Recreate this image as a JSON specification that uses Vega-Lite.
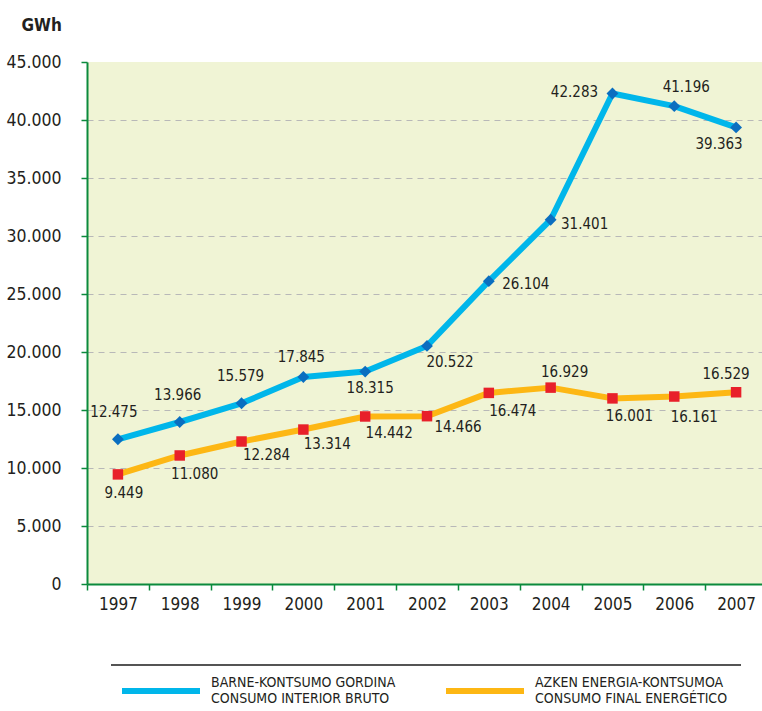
{
  "$schema": "https://vega.github.io/schema/vega-lite/v6.json",
  "width": 675,
  "height": 522,
  "autosize": "none",
  "padding": {"left": 87, "top": 62, "right": 0, "bottom": 127},
  "background": "white",
  "config": {
    "view": {"fill": "#f0f4d5", "stroke": null},
    "font": "DejaVu Sans Condensed",
    "locale": {"number": {"decimal": ",", "thousands": ".", "grouping": [3], "currency": ["", ""]}},
    "axis": {"labelColor": "#231f20", "labelFont": "DejaVu Sans Condensed", "domainColor": "#0b8a3c", "domainWidth": 2, "tickColor": "#0b8a3c", "tickWidth": 1.5, "tickSize": 6},
    "legend": {"labelFont": "DejaVu Sans Condensed"},
    "text": {"font": "DejaVu Sans Condensed"}
  },
  "data": {
    "values": [
      {"year": "1997", "series": "BARNE-KONTSUMO GORDINA / CONSUMO INTERIOR BRUTO", "value": 12475},
      {"year": "1998", "series": "BARNE-KONTSUMO GORDINA / CONSUMO INTERIOR BRUTO", "value": 13966},
      {"year": "1999", "series": "BARNE-KONTSUMO GORDINA / CONSUMO INTERIOR BRUTO", "value": 15579},
      {"year": "2000", "series": "BARNE-KONTSUMO GORDINA / CONSUMO INTERIOR BRUTO", "value": 17845},
      {"year": "2001", "series": "BARNE-KONTSUMO GORDINA / CONSUMO INTERIOR BRUTO", "value": 18315},
      {"year": "2002", "series": "BARNE-KONTSUMO GORDINA / CONSUMO INTERIOR BRUTO", "value": 20522},
      {"year": "2003", "series": "BARNE-KONTSUMO GORDINA / CONSUMO INTERIOR BRUTO", "value": 26104},
      {"year": "2004", "series": "BARNE-KONTSUMO GORDINA / CONSUMO INTERIOR BRUTO", "value": 31401},
      {"year": "2005", "series": "BARNE-KONTSUMO GORDINA / CONSUMO INTERIOR BRUTO", "value": 42283},
      {"year": "2006", "series": "BARNE-KONTSUMO GORDINA / CONSUMO INTERIOR BRUTO", "value": 41196},
      {"year": "2007", "series": "BARNE-KONTSUMO GORDINA / CONSUMO INTERIOR BRUTO", "value": 39363},
      {"year": "1997", "series": "AZKEN ENERGIA-KONTSUMOA / CONSUMO FINAL ENERGÉTICO", "value": 9449},
      {"year": "1998", "series": "AZKEN ENERGIA-KONTSUMOA / CONSUMO FINAL ENERGÉTICO", "value": 11080},
      {"year": "1999", "series": "AZKEN ENERGIA-KONTSUMOA / CONSUMO FINAL ENERGÉTICO", "value": 12284},
      {"year": "2000", "series": "AZKEN ENERGIA-KONTSUMOA / CONSUMO FINAL ENERGÉTICO", "value": 13314},
      {"year": "2001", "series": "AZKEN ENERGIA-KONTSUMOA / CONSUMO FINAL ENERGÉTICO", "value": 14442},
      {"year": "2002", "series": "AZKEN ENERGIA-KONTSUMOA / CONSUMO FINAL ENERGÉTICO", "value": 14466},
      {"year": "2003", "series": "AZKEN ENERGIA-KONTSUMOA / CONSUMO FINAL ENERGÉTICO", "value": 16474},
      {"year": "2004", "series": "AZKEN ENERGIA-KONTSUMOA / CONSUMO FINAL ENERGÉTICO", "value": 16929},
      {"year": "2005", "series": "AZKEN ENERGIA-KONTSUMOA / CONSUMO FINAL ENERGÉTICO", "value": 16001},
      {"year": "2006", "series": "AZKEN ENERGIA-KONTSUMOA / CONSUMO FINAL ENERGÉTICO", "value": 16161},
      {"year": "2007", "series": "AZKEN ENERGIA-KONTSUMOA / CONSUMO FINAL ENERGÉTICO", "value": 16529}
    ]
  },
  "encoding": {
    "x": {
      "field": "year", "type": "ordinal",
      "scale": {"type": "band", "range": [0, 680], "paddingInner": 0, "paddingOuter": 0},
      "axis": {"title": null, "labelAngle": 0, "labelFontSize": 17, "labelPadding": 6, "tickBand": "extent", "grid": false}
    },
    "y": {
      "field": "value", "type": "quantitative",
      "scale": {"domain": [0, 45000], "nice": false},
      "axis": {
        "values": [0, 5000, 10000, 15000, 20000, 25000, 30000, 35000, 40000, 45000],
        "format": ",d",
        "labelFontSize": 17.5, "labelPadding": 20,
        "grid": true, "gridColor": "#b8b8b8", "gridDash": [6, 5], "gridWidth": 1.2,
        "gridOpacity": {"condition": {"test": "datum.value == 45000 || datum.value == 0", "value": 0}, "value": 1},
        "title": "GWh", "titleAngle": 0, "titleAlign": "left", "titleBaseline": "alphabetic",
        "titleX": -66, "titleY": -32, "titleFontSize": 17, "titleFontWeight": "bold", "titleColor": "#231f20", "titleFont": "DejaVu Sans Condensed"
      }
    }
  },
  "layer": [
    {
      "mark": {"type": "rule", "color": "#555555", "strokeWidth": 1.5, "clip": false},
      "encoding": {
        "x": {"datum": "1997", "type": "ordinal", "bandPosition": 0.4},
        "x2": {"datum": "2007", "bandPosition": 0.57},
        "y": {"datum": -7000, "type": "quantitative"}
      }
    },
    {
      "mark": {"type": "line", "strokeWidth": 6, "strokeJoin": "round"},
      "encoding": {
        "color": {
          "field": "series", "type": "nominal",
          "scale": {"domain": ["BARNE-KONTSUMO GORDINA / CONSUMO INTERIOR BRUTO", "AZKEN ENERGIA-KONTSUMOA / CONSUMO FINAL ENERGÉTICO"], "range": ["#00b6ea", "#fdb714"]},
          "legend": {
            "title": null, "orient": "none", "legendX": 32, "legendY": 587,
            "direction": "horizontal", "columns": 2, "columnPadding": 38,
            "symbolType": "stroke", "symbolSize": 6084, "symbolStrokeWidth": 6,
            "labelExpr": "split(datum.label, ' / ')",
            "labelFontSize": 14, "labelColor": "#231f20", "labelOffset": 8, "labelLimit": 400, "labelBaseline": "line-bottom"
          }
        }
      }
    },
    {
      "transform": [{"filter": "datum.series == 'BARNE-KONTSUMO GORDINA / CONSUMO INTERIOR BRUTO'"}],
      "mark": {"type": "point", "shape": "diamond", "filled": true, "opacity": 1, "fill": "#0a6ec0", "size": 140}
    },
    {
      "transform": [{"filter": "datum.series == 'AZKEN ENERGIA-KONTSUMOA / CONSUMO FINAL ENERGÉTICO'"}],
      "mark": {"type": "point", "shape": "square", "filled": true, "opacity": 1, "fill": "#e8202a", "size": 110}
    },
    {
      "transform": [{"filter": "datum.series == 'BARNE-KONTSUMO GORDINA / CONSUMO INTERIOR BRUTO'"}],
      "mark": {
        "type": "text", "fontSize": 15, "color": "#231f20", "align": "center", "baseline": "middle",
        "dx": {"expr": "{'1997': -4, '1998': -2, '1999': -1, '2000': -2, '2001': 5, '2002': 23, '2003': 37, '2004': 34, '2005': -38, '2006': 12, '2007': -17}[datum.year]"},
        "dy": {"expr": "{'1997': -27, '1998': -27, '1999': -27, '2000': -20, '2001': 16, '2002': 16, '2003': 3, '2004': 4, '2005': -2, '2006': -19, '2007': 17}[datum.year]"}
      },
      "encoding": {"text": {"field": "value", "type": "quantitative", "format": ",d"}}
    },
    {
      "transform": [{"filter": "datum.series == 'AZKEN ENERGIA-KONTSUMOA / CONSUMO FINAL ENERGÉTICO'"}],
      "mark": {
        "type": "text", "fontSize": 15, "color": "#231f20", "align": "center", "baseline": "middle",
        "dx": {"expr": "{'1997': 6, '1998': 15, '1999': 25, '2000': 24, '2001': 24, '2002': 31, '2003': 24, '2004': 14, '2005': 17, '2006': 20, '2007': -10}[datum.year]"},
        "dy": {"expr": "{'1997': 19, '1998': 19, '1999': 13, '2000': 14, '2001': 17, '2002': 11, '2003': 18, '2004': -16, '2005': 18, '2006': 20, '2007': -18}[datum.year]"}
      },
      "encoding": {"text": {"field": "value", "type": "quantitative", "format": ",d"}}
    }
  ]
}
